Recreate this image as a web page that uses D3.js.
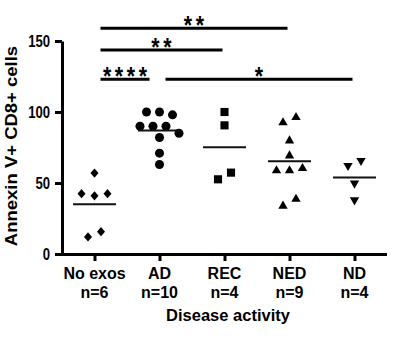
<!DOCTYPE html>
<html>
<head>
<meta charset="utf-8">
<script src="https://cdn.jsdelivr.net/npm/d3@7"></script>
<style>
body { margin: 0; background: #fff; }
svg { display: block; }
text { font-family: "Liberation Sans", Arial, sans-serif; font-weight: bold; fill: #000; }
</style>
</head>
<body>
<svg id="chart" width="397" height="346"></svg>
<script>
const groups = ["No exos", "AD", "REC", "NED", "ND"];
const counts = ["n=6", "n=10", "n=4", "n=9", "n=4"];

// values listed row by row, left to right
const noExos = [57, 42.5, 41, 42.5, 12, 15.7];
const ad = [100, 100, 98, 90, 90, 90, 85, 82, 71, 63];
const rec = [100, 90.6, 52.6, 57.3];
const ned = [92.5, 96.2, 79.8, 69.2, 58.7, 58.7, 60.3, 33.8, 38.7];
const nd = [62.2, 65.7, 49.8, 38];

const yTicks = [0, 50, 100, 150];

// [from, to, stars, bar level]
const comparisons = [
    ["No exos", "NED", "**", 159],
    ["No exos", "REC", "**", 143.7],
    ["No exos", "AD", "****", 123],
    ["AD", "ND", "*", 123]
];

const series = [noExos, ad, rec, ned, nd];
const squeeze = 0.82;

const svg = d3.select("#chart");

const x = d3.scalePoint().domain(groups).range([62, 387]).padding(0.5);
const y = d3.scaleLinear().domain([0, 150]).range([254, 41]);

// symbols per group
const diamond = {
    draw(ctx, size) {
        const w = Math.sqrt(size) / 2, h = w * 1.15;
        ctx.moveTo(0, -h);
        ctx.lineTo(w, 0);
        ctx.lineTo(0, h);
        ctx.lineTo(-w, 0);
        ctx.closePath();
    }
};
const shapes = [
    { type: diamond, size: 64, rot: 0 },
    { type: d3.symbolCircle, size: 64, rot: 0 },
    { type: d3.symbolSquare, size: 66, rot: 0 },
    { type: d3.symbolTriangle, size: 38, rot: 0 },
    { type: d3.symbolTriangle, size: 38, rot: 180 }
];

// spread values of similar height side by side
function layoutRows(values) {
    const rows = [];
    values.forEach(v => {
        const last = rows[rows.length - 1];
        if (last && Math.abs(last[0] - v) <= 5) last.push(v);
        else rows.push([v]);
    });
    const out = [];
    rows.forEach(row => {
        row.forEach((v, i) => out.push({ v, dx: (i - (row.length - 1) / 2) * 13 }));
    });
    return out;
}

// y axis
const yAxis = svg.append("g")
    .attr("transform", "translate(62,0)")
    .call(d3.axisLeft(y).tickValues(yTicks).tickSize(7).tickSizeOuter(0).tickPadding(4));
yAxis.attr("font-family", null).attr("font-size", null);
yAxis.select(".domain").attr("stroke-width", 3).attr("stroke", "#000");
yAxis.selectAll(".tick line").attr("stroke-width", 3).attr("stroke", "#000");
yAxis.selectAll(".tick text")
    .attr("x", -14.6)
    .attr("dy", "0.36em")
    .attr("transform", `scale(${squeeze},1)`)
    .attr("font-size", 16)
    .style("font-size", "16px")
    .attr("fill", "#000");

// x axis, labels drawn separately below
const xAxis = svg.append("g")
    .attr("transform", "translate(0,254)")
    .call(d3.axisBottom(x).tickSize(7).tickSizeOuter(0).tickFormat(""));
xAxis.select(".domain").attr("stroke-width", 3).attr("stroke", "#000")
    .attr("d", "M60.5,0.5H387");
xAxis.selectAll(".tick line").attr("stroke-width", 3).attr("stroke", "#000");
xAxis.selectAll(".tick text").remove();

const labels = svg.append("g");
labels.selectAll("text.cat")
    .data(groups)
    .join("text")
    .attr("class", "cat")
    .attr("text-anchor", "middle")
    .attr("x", d => x(d))
    .attr("y", 279)
    .style("font-size", "16px")
    .text(d => d);
labels.selectAll("text.count")
    .data(groups)
    .join("text")
    .attr("class", "count")
    .attr("text-anchor", "middle")
    .attr("x", d => x(d))
    .attr("y", 297.5)
    .style("font-size", "16px")
    .text((d, i) => counts[i]);

// points
series.forEach((vals, gi) => {
    const cx = x(groups[gi]);
    const sh = shapes[gi];
    const sym = d3.symbol().type(sh.type).size(sh.size);
    const g = svg.append("g");
    g.selectAll("path")
        .data(layoutRows(vals))
        .join("path")
        .attr("d", sym)
        .attr("transform", d => `translate(${cx + d.dx},${y(d.v)}) rotate(${sh.rot})`)
        .attr("fill", "#000");
    // mean line
    const m = d3.mean(vals);
    g.append("line")
        .attr("x1", cx - 21.5).attr("x2", cx + 21.5)
        .attr("y1", y(m)).attr("y2", y(m))
        .attr("stroke", "#111").attr("stroke-width", 2);
});

// significance bars
const sig = svg.append("g");
comparisons.forEach(([a, b, stars, level]) => {
    const shared = comparisons.some(c => c[0] === b && c[3] === level);
    const x1 = x(a) + 6;
    const x2 = x(b) - (shared ? 10 : 2);
    sig.append("line")
        .attr("x1", x1).attr("x2", x2)
        .attr("y1", y(level)).attr("y2", y(level))
        .attr("stroke", "#000").attr("stroke-width", 3);
    const ls = 4.5;
    sig.append("text")
        .attr("transform", `translate(${(x1 + x2) / 2},${y(level) + 6}) scale(${squeeze},1)`)
        .attr("text-anchor", "middle")
        .attr("dx", ls / 2)
        .style("letter-spacing", ls + "px")
        .style("font-size", "26px")
        .text(stars);
});

// axis titles
svg.append("text")
    .attr("x", 228)
    .attr("y", 321)
    .attr("text-anchor", "middle")
    .style("font-size", "16.5px")
    .text("Disease activity");

svg.append("text")
    .attr("transform", `translate(16.5,146) scale(0.88,1) rotate(-90)`)
    .attr("text-anchor", "middle")
    .style("font-size", "18.5px")
    .text("Annexin V+ CD8+ cells");
</script>
</body>
</html>
